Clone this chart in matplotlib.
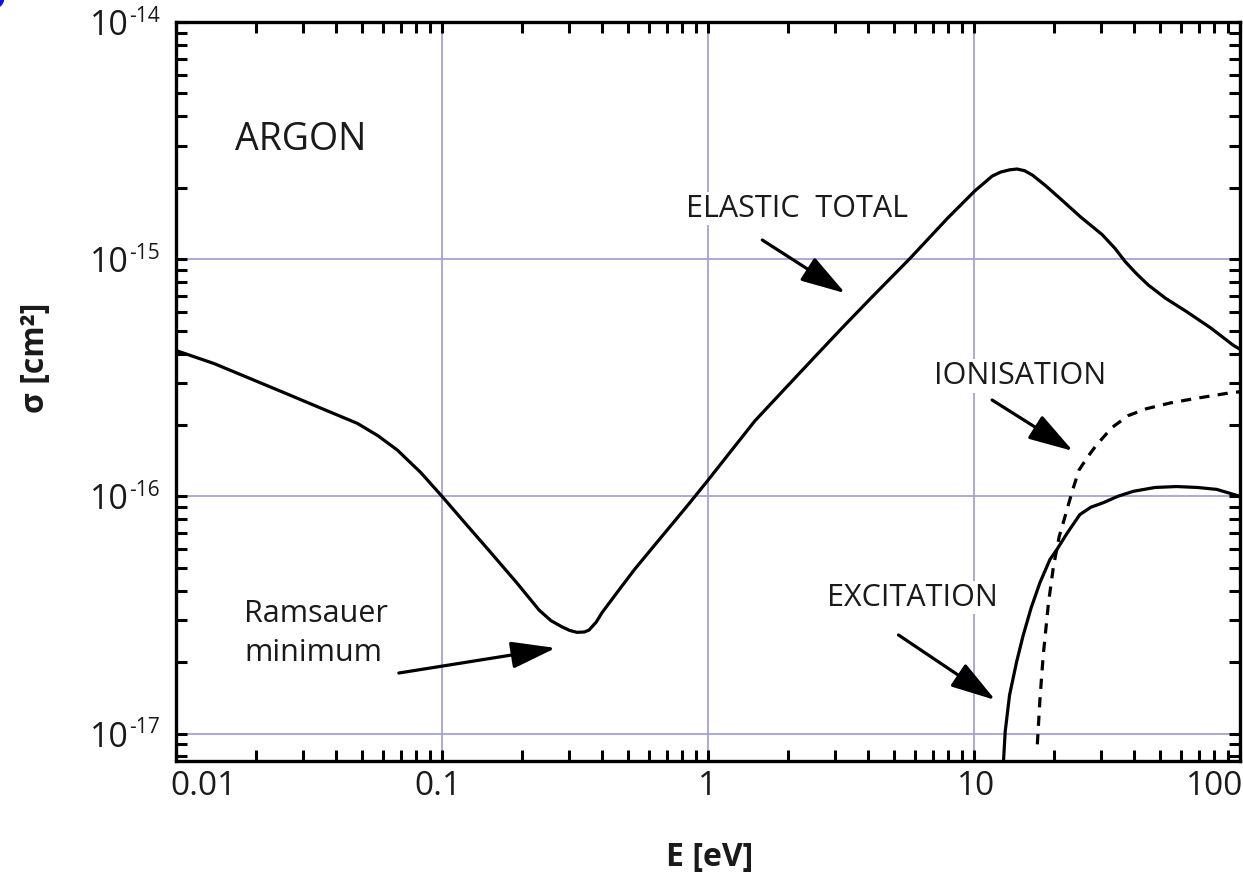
import numpy as np
import matplotlib
matplotlib.use("Agg")
import matplotlib.pyplot as plt
from matplotlib.ticker import FixedLocator, LogLocator, NullFormatter
from matplotlib.transforms import blended_transform_factory, offset_copy

plt.rcParams['font.family'] = ['Open Sans', 'DejaVu Sans']

# --- data (E in eV, sigma in cm^2) ---
elastic_E = [0.0100, 0.0139, 0.0191, 0.0258, 0.0355, 0.0481, 0.0575, 0.0678, 0.0832, 0.100,
             0.126, 0.152, 0.191, 0.232, 0.257, 0.282, 0.302, 0.322, 0.343, 0.357, 0.380,
             0.400, 0.462, 0.528, 0.631, 0.843, 1.00, 1.23, 1.50, 1.95, 2.48, 3.16, 4.09,
             5.71, 7.96, 10.07, 11.7, 12.6, 13.6, 14.5, 15.5, 16.6, 18.6, 21.7, 25.1, 30.3,
             33.9, 37.0, 40.7, 45.2, 52.5, 63.1, 77.6, 94.2, 100]
elastic_sigma = [4.12e-16, 3.63e-16, 3.13e-16, 2.72e-16, 2.34e-16, 2.03e-16, 1.80e-16, 1.57e-16,
                 1.26e-16, 1.00e-16, 7.41e-17, 5.82e-17, 4.32e-17, 3.31e-17, 2.99e-17, 2.82e-17,
                 2.72e-17, 2.67e-17, 2.68e-17, 2.73e-17, 2.95e-17, 3.24e-17, 4.02e-17, 4.90e-17,
                 6.24e-17, 9.23e-17, 1.17e-16, 1.57e-16, 2.08e-16, 2.85e-16, 3.80e-16, 5.07e-16,
                 6.84e-16, 1.00e-15, 1.49e-15, 1.94e-15, 2.24e-15, 2.33e-15, 2.38e-15, 2.40e-15,
                 2.36e-15, 2.26e-15, 2.04e-15, 1.75e-15, 1.51e-15, 1.27e-15, 1.11e-15, 9.77e-16,
                 8.71e-16, 7.78e-16, 6.84e-16, 6.00e-16, 5.13e-16, 4.34e-16, 4.17e-16]

excit_E = [12.85, 13.1, 13.6, 14.45, 15.3, 16.4, 17.7, 19.3, 20.5, 22.4, 25.0, 27.5, 30.6,
           34.7, 39.7, 47.9, 57.8, 69.2, 81.7, 100]
excit_sigma = [7.0e-18, 1.02e-17, 1.45e-17, 2.0e-17, 2.59e-17, 3.39e-17, 4.33e-17, 5.42e-17,
               5.97e-17, 7.0e-17, 8.38e-17, 9.0e-17, 9.4e-17, 1.0e-16, 1.05e-16, 1.09e-16,
               1.10e-16, 1.09e-16, 1.07e-16, 1.0e-16]

ion_E = [17.3, 17.7, 18.2, 19.05, 19.9, 20.9, 22.0, 23.4, 24.8, 26.9, 28.8, 33.0, 38.0, 44.4,
         55.0, 68.4, 93.3, 100]
ion_sigma = [9.0e-18, 1.4e-17, 2.13e-17, 3.55e-17, 5.08e-17, 6.76e-17, 8.24e-17, 1.05e-16,
             1.29e-16, 1.48e-16, 1.64e-16, 1.95e-16, 2.19e-16, 2.34e-16, 2.48e-16, 2.59e-16,
             2.74e-16, 2.76e-16]

x_ticks = [0.01, 0.1, 1, 10, 100]
x_ticklabels = ['0.01', '0.1', '1', '10', '100']
y_ticks = [1e-17, 1e-16, 1e-15, 1e-14]
y_exponents = ['-17', '-16', '-15', '-14']

# small horizontal shifts of the x tick labels, as in the original (pixels)
x_label_shift = [27, -4, 0, 2, -25]

fig = plt.figure(figsize=(12.43, 8.77), dpi=100)
ax = fig.add_axes([0.1416, 0.1323, 0.8560, 0.8426])

ax.set_xscale('log')
ax.set_yscale('log')
ax.set_xlim(0.01, 100)
ax.set_ylim(7.66e-18, 1e-14)

ax.plot(elastic_E, elastic_sigma, color='black', lw=2.3, zorder=3, solid_joinstyle='round')
ax.plot(excit_E, excit_sigma, color='black', lw=2.3, zorder=3, solid_joinstyle='round')
ax.plot(ion_E, ion_sigma, color='black', lw=2.3, ls=(0, (3.2, 2.6)), zorder=3)

# ticks and grid at decades
ax.xaxis.set_major_locator(FixedLocator(x_ticks))
ax.xaxis.set_minor_locator(LogLocator(base=10, subs=np.arange(2, 10)))
ax.yaxis.set_major_locator(FixedLocator(y_ticks))
ax.yaxis.set_minor_locator(LogLocator(base=10, subs=np.arange(2, 10), numticks=20))
for axis in (ax.xaxis, ax.yaxis):
    axis.set_major_formatter(NullFormatter())
    axis.set_minor_formatter(NullFormatter())
ax.grid(True, which='major', color='#a4a4d2', lw=1.3, zorder=1)

for s in ax.spines.values():
    s.set_linewidth(2.4)
ax.tick_params(which='both', direction='in', top=True, right=True, width=2.2,
               length=8, colors='black')

# tick labels, written by hand to get the small superscripts
tx = blended_transform_factory(ax.transData, ax.transAxes)
for v, lab, dx in zip(x_ticks, x_ticklabels, x_label_shift):
    ax.text(v, 0, lab, transform=offset_copy(tx, fig=fig, x=dx, y=-26, units='dots'),
            ha='center', va='center', fontsize=24, color='#1a1a1a')

ty = blended_transform_factory(ax.transAxes, ax.transData)
for v, ex in zip(y_ticks, y_exponents):
    ax.text(0, v, '10', transform=offset_copy(ty, fig=fig, x=-47, y=-4, units='dots'),
            ha='right', va='center', fontsize=24.5, color='#1a1a1a')
    ax.text(0, v, ex, transform=offset_copy(ty, fig=fig, x=-47, y=6, units='dots'),
            ha='left', va='center', fontsize=15, color='#1a1a1a')

# annotations
txt = dict(fontsize=22, color='#1a1a1a', zorder=4,
           bbox=dict(facecolor='white', edgecolor='none', pad=1))
arrow = dict(arrowstyle='-|>,head_length=1.25,head_width=0.38', color='black', lw=2.3,
             mutation_scale=22, shrinkA=0, shrinkB=0)

ax.text(0.0554, 0.840, 'ARGON', transform=ax.transAxes, ha='left', va='center',
        fontsize=27, color='#1a1a1a')
ax.text(0.479, 0.747, 'ELASTIC  TOTAL', transform=ax.transAxes, ha='left', va='center', **txt)
ax.annotate('', xy=(0.629, 0.633), xytext=(0.551, 0.705), xycoords='axes fraction',
            arrowprops=arrow)
ax.text(0.712, 0.521, 'IONISATION', transform=ax.transAxes, ha='left', va='center', **txt)
ax.annotate('', xy=(0.843, 0.4195), xytext=(0.767, 0.4885), xycoords='axes fraction',
            arrowprops=arrow)
ax.text(0.612, 0.2206, 'EXCITATION', transform=ax.transAxes, ha='left', va='center', **txt)
ax.annotate('', xy=(0.770, 0.0825), xytext=(0.679, 0.1705), xycoords='axes fraction',
            arrowprops=arrow)
ax.text(0.0638, 0.199, 'Ramsauer', transform=ax.transAxes, ha='left', va='center', **txt)
ax.text(0.0638, 0.146, 'minimum', transform=ax.transAxes, ha='left', va='center', **txt)
ax.annotate('', xy=(0.3568, 0.1529), xytext=(0.2094, 0.119), xycoords='axes fraction',
            arrowprops=arrow)

# axis labels
fig.text(710 / 1243, 1 - 857 / 877, 'E [eV]', ha='center', va='center',
         fontsize=23, fontweight='bold', color='#1a1a1a')
fig.text(35 / 1243, 1 - 358 / 877, 'σ [cm²]', ha='center', va='center', rotation=90,
         fontsize=23, fontweight='bold', color='#1a1a1a')

# clipped blue mark in the corner
fig.text(-0.018, 0.990, 'O', color='#1010ee', fontsize=26, fontweight='bold',
         ha='left', va='baseline')

fig.savefig('out.png', dpi=100)
